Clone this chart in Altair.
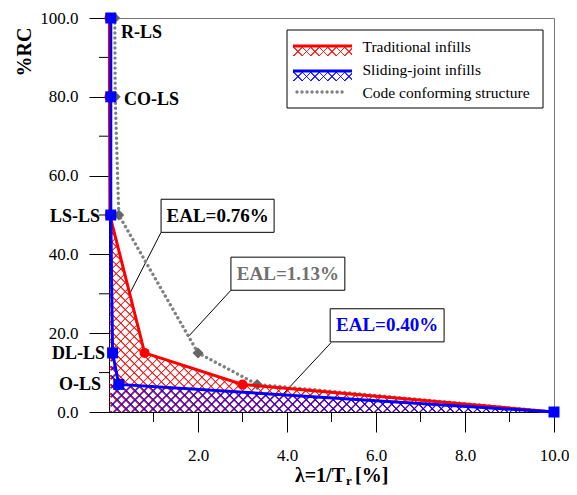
import altair as alt
import pandas as pd

# ---------------- data ----------------
rc_levels = [100, 80, 50, 15, 7, 0]
lam_traditional = [0.01, 0.01, 0.02, 0.80, 3.00, 10.0]
lam_sliding = [0.04, 0.04, 0.04, 0.08, 0.22, 10.0]
lam_code = [0.13, 0.14, 0.22, 2.00, 3.33, 10.0]
ls_labels = ["R-LS", "CO-LS", "LS-LS", "DL-LS", "O-LS"]
ls_levels = [100, 80, 50, 15, 7]
eal_texts = ["EAL=0.76%", "EAL=1.13%", "EAL=0.40%"]
series_names = ["Traditional infills", "Sliding-joint infills", "Code conforming structure"]
x_major = [2, 4, 6, 8, 10]
x_minor = [1, 3, 5, 7, 9]
y_major = [0, 20, 40, 60, 80, 100]
y_minor = [10, 30, 50, 70, 90]

# ---------------- layout / style ----------------
W, H = 445, 394
FONT = "Liberation Serif, Times New Roman, serif"
RED, BLUE, GRAY = "#ff0000", "#0000ff", "#808080"

# annotation boxes (in data units) and leader targets
ann = pd.DataFrame({
    "text": eal_texts,
    "bx1": [1.17, 2.74, 4.97], "bx2": [3.71, 5.30, 7.53],
    "by1": [45.6, 30.9, 17.8], "by2": [54.0, 39.3, 26.2],
    "tx": [2.44, 4.02, 6.25], "ty": [49.8, 35.1, 22.0],
    "lx": [1.17, 2.74, 4.99], "ly": [45.6, 30.9, 17.6],
    "ex": [0.45, 1.78, 3.90], "ey": [29.7, 19.1, 4.4],
    "col": ["black", "#707070", BLUE],
})


def series_df(lams):
    return pd.DataFrame({"lam": lams, "rc": rc_levels, "i": list(range(len(lams)))})


def hatch(rgb, w, h, period, flip, alpha=0.85):
    r = h / w
    k = (1 + r) / (1 + r * r)
    n = max(1, round((w + h) / period))
    on = f"rgba({rgb},{alpha})"
    off = f"rgba({rgb},0)"
    stops = []
    for i in range(n):
        for frac, c in ((0.0, off), (0.06, on), (0.17, on), (0.24, off)):
            stops.append(alt.GradientStop(offset=round((i + frac) / n, 5), color=c))
    stops.append(alt.GradientStop(offset=1, color=off))
    if flip:
        return alt.LinearGradient(gradient="linear", stops=stops, x1=0, y1=1, x2=k, y2=1 - k * r)
    return alt.LinearGradient(gradient="linear", stops=stops, x1=0, y1=0, x2=k, y2=k * r)


xs = alt.Scale(domain=[0, 10], nice=False, zero=False)
ys = alt.Scale(domain=[0, 100], nice=False, zero=False)
common_axis = dict(format=".1f", title=None, tickSize=20, labelFont=FONT, labelFontSize=17,
                   labelColor="black", domainColor="black", tickColor="black", grid=False,
                   labelFlush=False, labelOverlap=False, domainWidth=1, tickWidth=1)
x_axis = alt.Axis(values=x_major, labelPadding=15, **common_axis)
y_axis = alt.Axis(values=y_major, labelPadding=11, **common_axis)


def X(f="lam"):
    return alt.X(f"{f}:Q", scale=xs, axis=x_axis)


def Y(f="rc"):
    return alt.Y(f"{f}:Q", scale=ys, axis=y_axis, stack=None)


one = pd.DataFrame({"a": [0]})
trad = series_df(lam_traditional)
slid = series_df(lam_sliding)
code = series_df(lam_code)

layers = []

# hatched areas
for df, rgb in ((trad, "255,0,0"), (slid, "0,0,255")):
    for flip in (False, True):
        layers.append(alt.Chart(df).mark_area(fill=hatch(rgb, W - 1, H, 9, flip), strokeWidth=0)
                      .encode(x=X(), y=Y()))

# minor ticks
layers.append(alt.Chart(pd.DataFrame({"v": x_minor})).mark_rule(color="black", strokeWidth=1)
              .encode(x=X("v"), y=alt.value(H), y2=alt.value(H + 10)))
layers.append(alt.Chart(pd.DataFrame({"v": y_minor})).mark_rule(color="black", strokeWidth=1)
              .encode(y=Y("v"), x=alt.value(0), x2=alt.value(-10)))

# leader lines
layers.append(alt.Chart(ann).mark_rule(color="black", strokeWidth=1)
              .encode(x=X("lx"), y=Y("ly"), x2="ex:Q", y2="ey:Q"))

# code conforming (gray dotted)
layers.append(alt.Chart(code).mark_line(color=GRAY, strokeWidth=3.4, strokeDash=[0.01, 5.0], strokeCap="round")
              .encode(x=X(), y=Y(), order="i:Q"))
layers.append(alt.Chart(code).mark_point(shape="diamond", filled=True, color="#666666", size=120, opacity=1)
              .encode(x=X(), y=Y()))

# traditional (red)
layers.append(alt.Chart(trad).mark_line(color=RED, strokeWidth=3)
              .encode(x=X(), y=Y(), order="i:Q"))
layers.append(alt.Chart(trad).mark_point(shape="circle", filled=True, color=RED, size=100, opacity=1)
              .encode(x=X(), y=Y()))

# sliding joint (blue)
layers.append(alt.Chart(slid).mark_line(color=BLUE, strokeWidth=3)
              .encode(x=X(), y=Y(), order="i:Q"))
layers.append(alt.Chart(slid).mark_point(shape="square", filled=True, color=BLUE, size=121, opacity=1)
              .encode(x=X(), y=Y()))

# EAL boxes
layers.append(alt.Chart(ann).mark_rect(fill="white", stroke="black", strokeWidth=1)
              .encode(x=X("bx1"), x2="bx2:Q", y=Y("by1"), y2="by2:Q"))
layers.append(alt.Chart(ann).mark_text(font=FONT, fontSize=19, fontWeight="bold", align="center", baseline="middle")
              .encode(x=X("tx"), y=Y("ty"), text="text:N", color=alt.Color("col:N", scale=None)))

# limit-state labels
lab = pd.DataFrame({"label": ls_labels, "rc": ls_levels})
lab_style = {
    "R-LS": dict(align="left", dx=12, dy=15),
    "CO-LS": dict(align="left", dx=15, dy=3),
    "LS-LS": dict(align="right", dx=-9, dy=2),
    "DL-LS": dict(align="right", dx=-4, dy=1.5),
    "O-LS": dict(align="right", dx=-8, dy=1),
}
for name, st in lab_style.items():
    layers.append(alt.Chart(lab[lab.label == name]).mark_text(
        font=FONT, fontSize=18, fontWeight="bold", baseline="middle", color="black", **st)
        .encode(x=alt.value(0), y=Y("rc"), text="label:N"))

# legend
layers.append(alt.Chart(one).mark_rect(fill="white", stroke="black", strokeWidth=1)
              .encode(x=alt.value(178), x2=alt.value(434), y=alt.value(12), y2=alt.value(90)))
for y_line, rgb, col in ((28, "255,0,0", RED), (53, "0,0,255", BLUE)):
    for flip in (False, True):
        layers.append(alt.Chart(one).mark_rect(fill=hatch(rgb, 59, 9, 8, flip), strokeWidth=0)
                      .encode(x=alt.value(184), x2=alt.value(243), y=alt.value(y_line + 1), y2=alt.value(y_line + 10)))
    layers.append(alt.Chart(one).mark_rule(color=col, strokeWidth=3)
                  .encode(x=alt.value(184), x2=alt.value(243), y=alt.value(y_line)))
layers.append(alt.Chart(one).mark_rule(color=GRAY, strokeWidth=3.4, strokeDash=[0.01, 5.0], strokeCap="round")
              .encode(x=alt.value(188), x2=alt.value(235), y=alt.value(74)))
for name, yb in zip(series_names, (34, 57, 80)):
    layers.append(alt.Chart(one).mark_text(font=FONT, fontSize=15.5, align="left", baseline="alphabetic",
                                           color="black", text=name)
                  .encode(x=alt.value(253.5), y=alt.value(yb)))

# axis titles
layers.append(alt.Chart(one).mark_text(font=FONT, fontSize=20, fontWeight="bold", angle=270, align="center",
                                       baseline="middle", color="black", text="%RC")
              .encode(x=alt.value(-84), y=alt.value(34)))
layers.append(alt.Chart(one).mark_text(font=FONT, fontSize=20, fontWeight="bold", align="right",
                                       baseline="alphabetic", color="black", text="λ=1/T")
              .encode(x=alt.value(236), y=alt.value(464)))
layers.append(alt.Chart(one).mark_text(font=FONT, fontSize=13, fontWeight="bold", align="left",
                                       baseline="alphabetic", color="black", text="r")
              .encode(x=alt.value(237), y=alt.value(467)))
layers.append(alt.Chart(one).mark_text(font=FONT, fontSize=20, fontWeight="bold", align="left",
                                       baseline="alphabetic", color="black", text="[%]")
              .encode(x=alt.value(246), y=alt.value(464)))

chart = alt.layer(*layers).properties(
    width=W, height=H,
    autosize=alt.AutoSizeParams(type="none"),
    padding={"left": 101, "top": 10, "right": 15, "bottom": 75},
).configure_view(stroke="#777777", strokeWidth=1)

chart.save("out.html", embed_options={"renderer": "svg", "actions": False})
